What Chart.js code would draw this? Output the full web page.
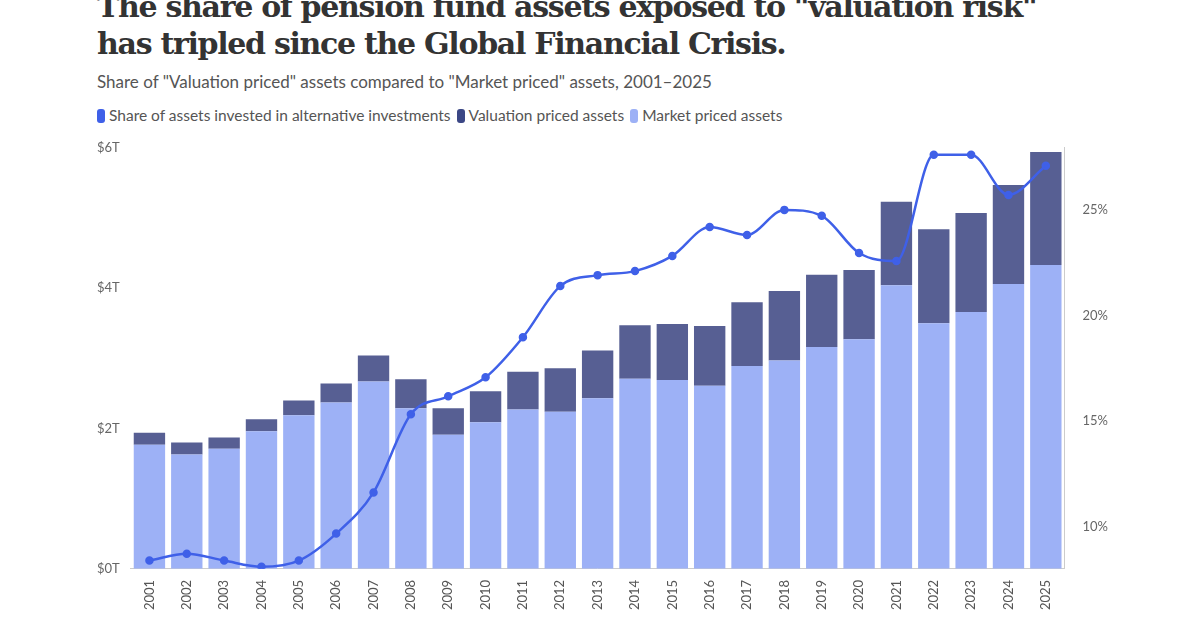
<!DOCTYPE html>
<html>
<head>
<meta charset="utf-8">
<script src="https://cdn.jsdelivr.net/npm/chart.js@4"></script>
<style>
  body { margin: 0; width: 1200px; height: 630px; overflow: hidden; background: #fff; font-family: Lato, sans-serif; position: relative; }
  h1 { position: absolute; left: 97px; top: -12px; margin: 0; font: bold 30px/37px "DejaVu Serif", serif; color: #333; letter-spacing: -1.3px; }
  .sub { position: absolute; left: 97px; top: 71px; font-size: 17px; color: #555; }
  .legend { position: absolute; left: 97px; top: 106px; font-size: 15.5px; color: #555; display: flex; gap: 6px; }
  .legend span i { display: inline-block; width: 8px; height: 14px; border-radius: 3px; margin-right: 4px; vertical-align: -2px; }
  #wrap { position: absolute; left: 0; top: 130px; width: 1200px; height: 483px; }
</style>
</head>
<body>
<h1>The share of pension fund assets exposed to "valuation risk"<br>has tripled since the Global Financial Crisis.</h1>
<div class="sub">Share of "Valuation priced" assets compared to "Market priced" assets, 2001–2025</div>
<div class="legend">
  <span><i style="background:#3f60e8"></i>Share of assets invested in alternative investments</span>
  <span><i style="background:#3b4785"></i>Valuation priced assets</span>
  <span><i style="background:#9db1f6"></i>Market priced assets</span>
</div>
<div id="wrap"><canvas id="c"></canvas></div>
<script>
const years = ['2001','2002','2003','2004','2005','2006','2007','2008','2009','2010','2011','2012','2013','2014','2015','2016','2017','2018','2019','2020','2021','2022','2023','2024','2025'];
const marketPriced = [1.77,1.63,1.71,1.96,2.19,2.37,2.67,2.29,1.91,2.09,2.27,2.24,2.43,2.71,2.69,2.61,2.89,2.97,3.16,3.27,4.04,3.50,3.66,4.06,4.33];
const totalAssets = [1.94,1.80,1.87,2.13,2.40,2.64,3.04,2.70,2.29,2.53,2.81,2.86,3.11,3.47,3.49,3.46,3.80,3.96,4.19,4.26,5.23,4.84,5.07,5.47,5.94];
const valuationPriced = totalAssets.map((t, i) => +(t - marketPriced[i]).toFixed(2));
const altShare = [8.39,8.72,8.39,8.10,8.39,9.67,11.62,15.32,16.17,17.07,18.97,21.39,21.91,22.10,22.82,24.19,23.81,25.0,24.72,22.96,22.58,27.61,27.61,25.71,27.09];
const leftTicks = [0, 2, 4, 6];
const rightTicks = [10, 15, 20, 25];

new Chart(document.getElementById('c'), {
  data: {
    labels: years,
    datasets: [
      {
        type: 'line', label: 'Share of assets invested in alternative investments', data: altShare, yAxisID: 'y1',
        borderColor: '#3f60e8', backgroundColor: '#3f60e8', borderWidth: 2.5, pointRadius: 3, tension: 0.4,
        cubicInterpolationMode: 'monotone', order: 0,
      },
      { type: 'bar', label: 'Market priced assets', data: marketPriced, backgroundColor: '#9db1f6', stack: 's', order: 1, categoryPercentage: 0.84, barPercentage: 1 },
      { type: 'bar', label: 'Valuation priced assets', data: valuationPriced, backgroundColor: '#575f93', stack: 's', order: 1, categoryPercentage: 0.84, barPercentage: 1,
        borderColor: '#fff', borderWidth: { bottom: 1.5, top: 0, left: 0, right: 0 } },
    ],
  },
  options: {
    responsive: true, maintainAspectRatio: false, animation: false,
    layout: { padding: { left: 94, right: 82, top: 6, bottom: 0 } },
    plugins: { legend: { display: false }, tooltip: { enabled: false } },
    scales: {
      x: {
        stacked: true, grid: { display: false }, border: { color: '#ccc' },
        ticks: { minRotation: 90, maxRotation: 90, color: '#555', font: { family: 'Lato', size: 13 } },
      },
      y: {
        stacked: true, min: 0, max: 6, grid: { display: false }, border: { display: false },
        afterBuildTicks: (axis) => { axis.ticks = leftTicks.map((v) => ({ value: v })); },
        ticks: { color: '#666', font: { family: 'Lato', size: 13 }, callback: (v) => `$${v}T` },
      },
      y1: {
        position: 'right', min: 8, max: 27.94, grid: { display: false }, border: { color: '#ccc' },
        afterBuildTicks: (axis) => { axis.ticks = rightTicks.map((v) => ({ value: v })); },
        ticks: { color: '#666', padding: 10, font: { family: 'Lato', size: 13 }, callback: (v) => `${v}%` },
      },
    },
  },
});
</script>
</body>
</html>
